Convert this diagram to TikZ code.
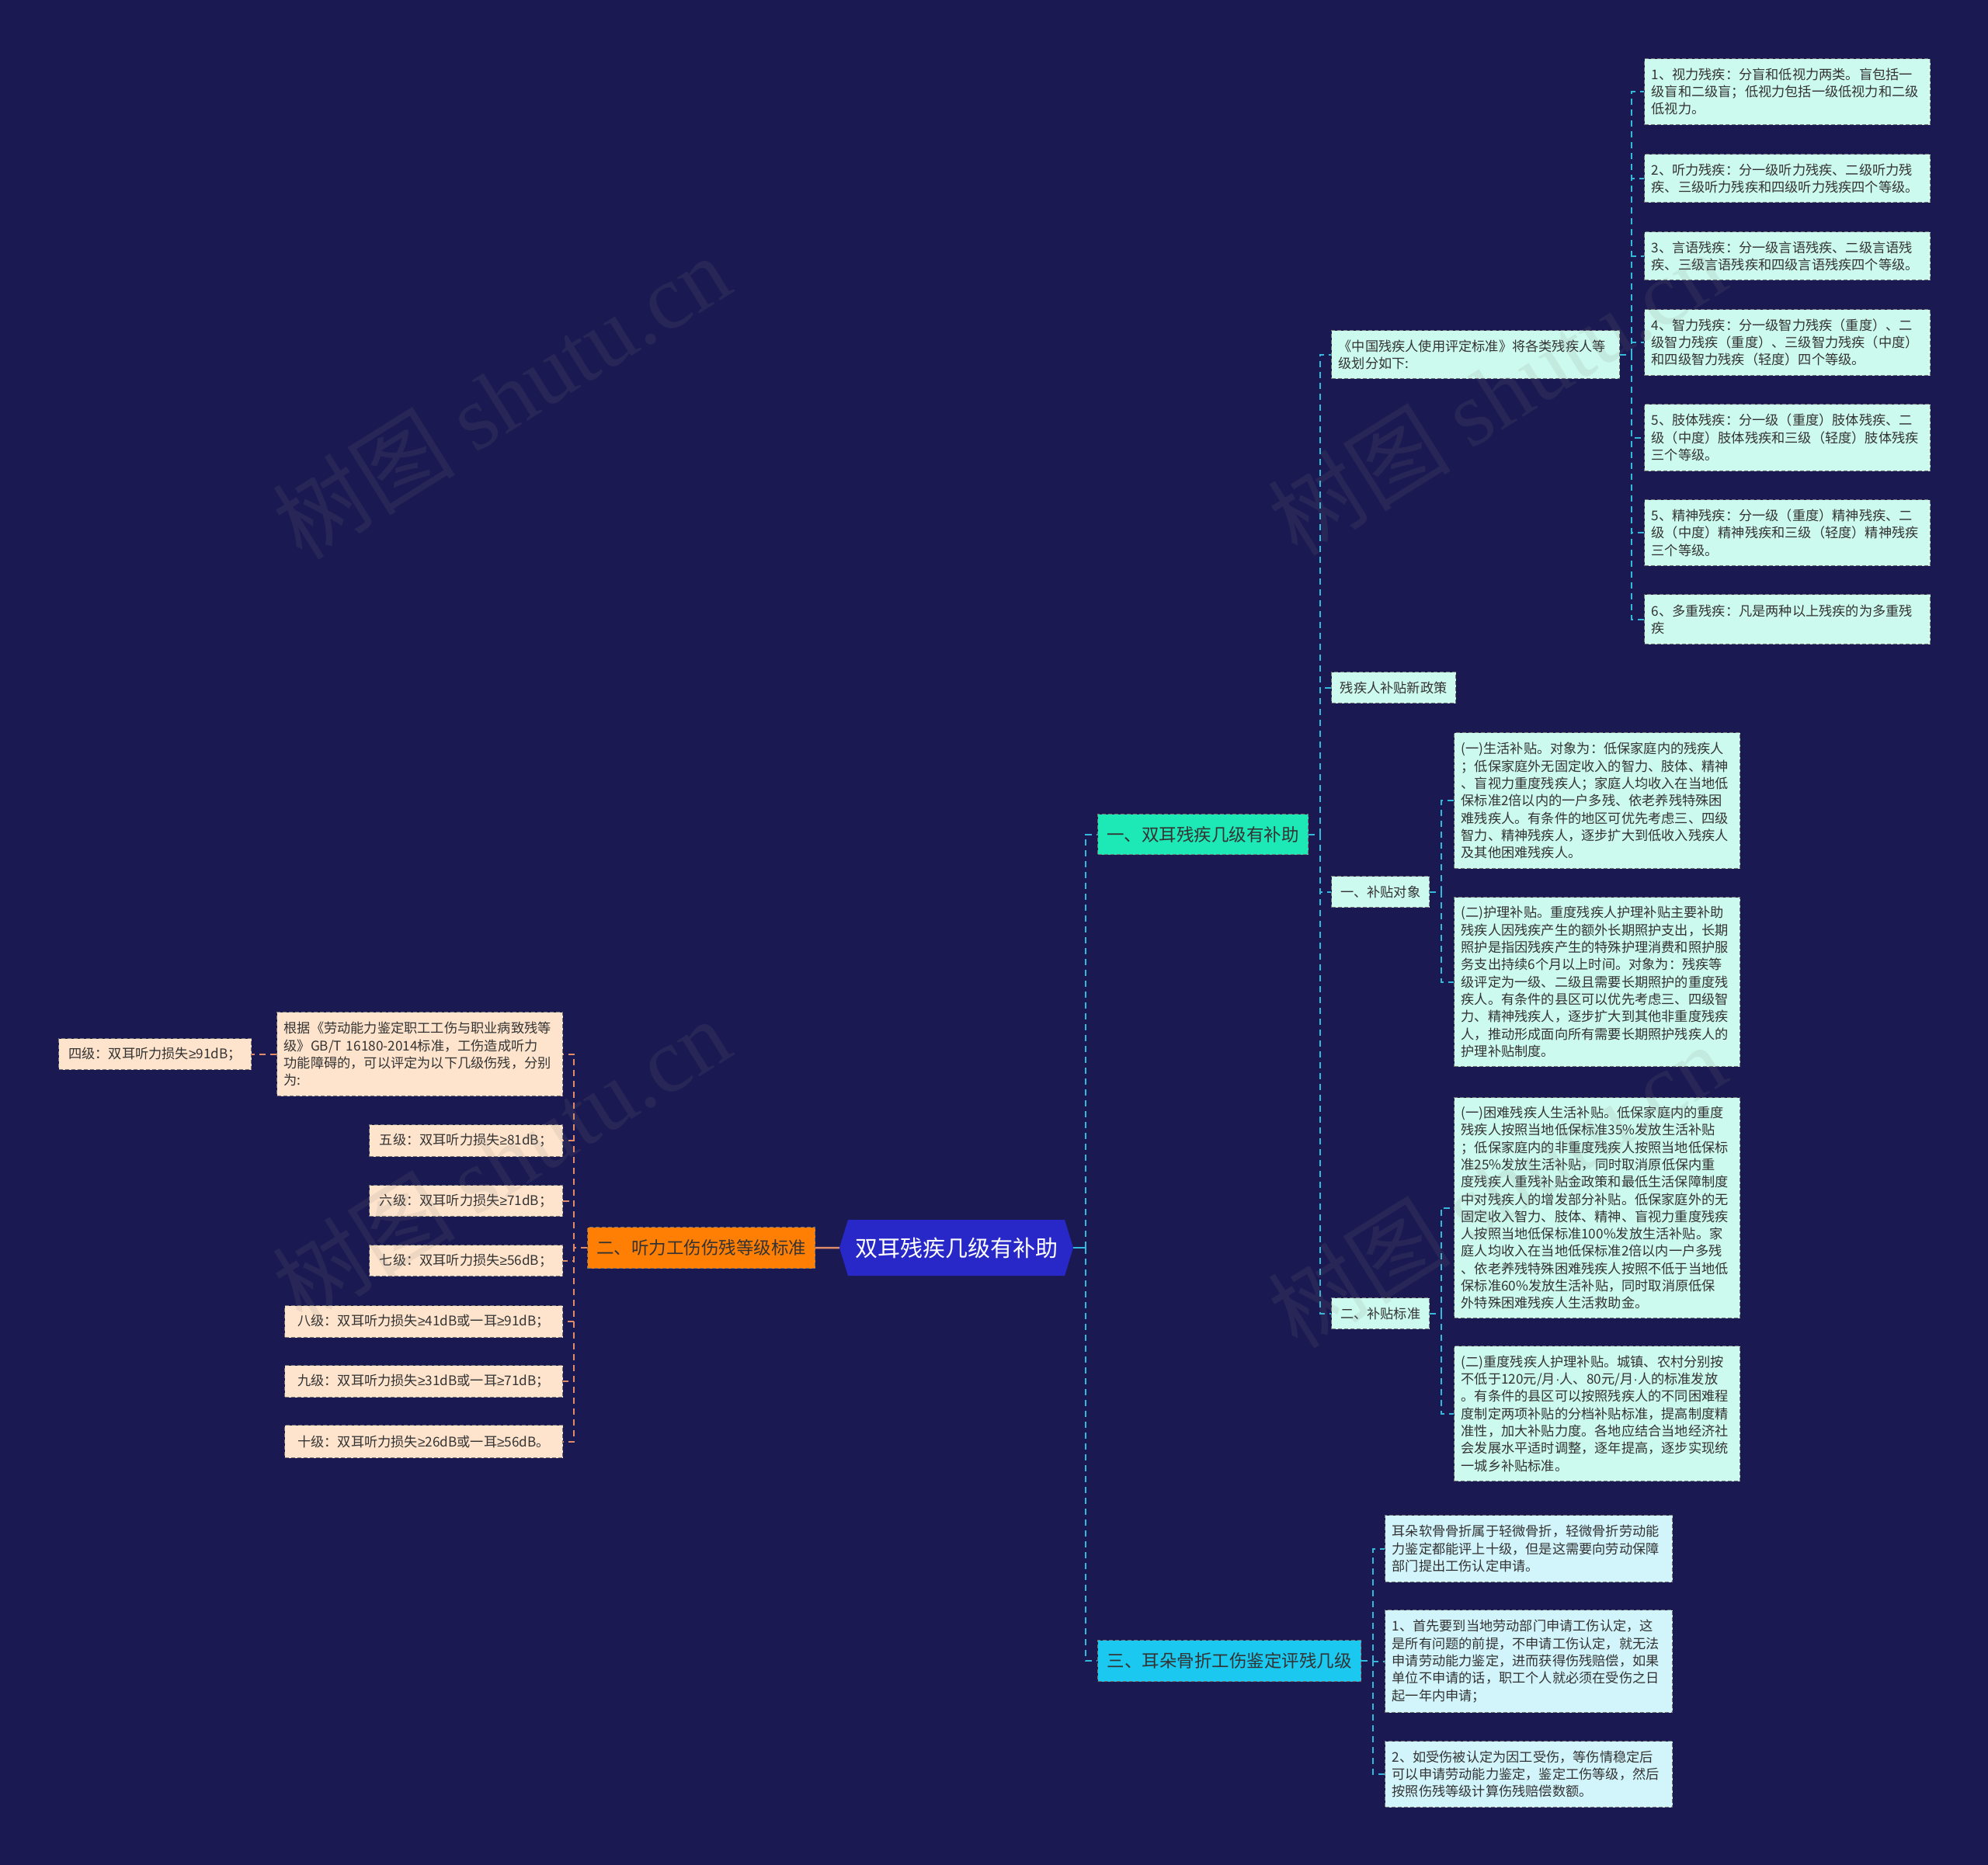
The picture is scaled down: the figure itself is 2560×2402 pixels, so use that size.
\documentclass[tikz,border=0pt]{standalone}
\usepackage{fontspec}
\setmainfont{Noto Sans CJK SC}
\newfontfamily\wmserif{Liberation Serif}
\newfontfamily\symfont{Liberation Sans}
\newcommand\gesym{{\symfont ≥}}
\definecolor{bg}{RGB}{27,25,82}
\definecolor{rootfill}{RGB}{40,40,200}
\definecolor{bgreen}{RGB}{29,233,182}
\definecolor{borange}{RGB}{255,127,5}
\definecolor{bcyan}{RGB}{26,200,240}
\definecolor{lgreen}{RGB}{205,250,238}
\definecolor{lcyan}{RGB}{210,245,252}
\definecolor{lorange}{RGB}{254,228,204}
\definecolor{cyline}{RGB}{50,185,220}
\definecolor{orline}{RGB}{225,140,105}
\definecolor{txt}{RGB}{51,51,51}
\tikzset{
  box/.style={anchor=north west, draw=black!55, dash pattern=on 5pt off 3pt, line width=1.2pt,
    inner xsep=9pt, inner ysep=2pt, align=left, text=txt, font=\fontsize{17.2}{22.3}\selectfont},
  lg/.style={box, fill=lgreen},
  lc/.style={box, fill=lcyan},
  lo/.style={box, fill=lorange},
  brbox/.style={anchor=north west, draw=black!55, dash pattern=on 5pt off 3pt, line width=1.2pt,
    inner sep=2pt, align=center, text=txt, font=\fontsize{22.5}{27}\selectfont},
  cy/.style={draw=cyline, line width=2pt, dash pattern=on 8pt off 6pt},
  cysolid/.style={draw=cyline, line width=2.5pt},
  orl/.style={draw=orline, line width=2pt, dash pattern=on 8pt off 6pt},
  orsolid/.style={draw=orline, line width=2.5pt},
  wm/.style={rotate=32, text=gray, opacity=0.13, font=\fontsize{118}{128}\selectfont}
}
\begin{document}
\begin{tikzpicture}[x=1pt,y=-1pt]
\useasboundingbox (0,0) rectangle (2560,2402);
\fill[bg] (0,0) rectangle (2560,2402);

% root hexagon
\fill[rootfill] (1092,1571) -- (1371,1571) -- (1382,1607) -- (1371,1643) -- (1092,1643) -- (1081,1607) -- cycle;
\node[minimum width=301, minimum height=72, inner sep=0pt, text=white, font=\fontsize{29}{34}\selectfont] (root) at (1231.5,1607) {双耳残疾几级有补助};

% branches
\node[brbox, fill=bgreen, minimum width=271, minimum height=52] (b1) at (1413,1048) {一、双耳残疾几级有补助};
\node[brbox, fill=borange, minimum width=293, minimum height=53] (b2) at (756,1580) {二、听力工伤伤残等级标准};
\node[brbox, fill=bcyan, minimum width=339, minimum height=53] (b3) at (1413,2112) {三、耳朵骨折工伤鉴定评残几级};

% branch 1 level 2
\node[lg, minimum width=371, minimum height=62, text width=353] (h1) at (1714,425) {《中国残疾人使用评定标准》将各类残疾人等\\级划分如下:};
\node[lg, minimum width=160, minimum height=40] (h2) at (1714,865) {残疾人补贴新政策};
\node[lg, minimum width=126, minimum height=40] (h3) at (1714,1128) {一、补贴对象};
\node[lg, minimum width=126, minimum height=40] (h4) at (1714,1671) {二、补贴标准};

% level 3 under h1
\node[lg, minimum width=368, minimum height=85, text width=350] (a1) at (2117,75) {1、视力残疾：分盲和低视力两类。盲包括一\\级盲和二级盲；低视力包括一级低视力和二级\\低视力。};
\node[lg, minimum width=368, minimum height=62, text width=350] (a2) at (2117,198) {2、听力残疾：分一级听力残疾、二级听力残\\疾、三级听力残疾和四级听力残疾四个等级。};
\node[lg, minimum width=368, minimum height=62, text width=350] (a3) at (2117,298) {3、言语残疾：分一级言语残疾、二级言语残\\疾、三级言语残疾和四级言语残疾四个等级。};
\node[lg, minimum width=368, minimum height=85, text width=350] (a4) at (2117,398) {4、智力残疾：分一级智力残疾（重度）、二\\级智力残疾（重度）、三级智力残疾（中度）\\和四级智力残疾（轻度）四个等级。};
\node[lg, minimum width=368, minimum height=86, text width=350] (a5) at (2117,520) {5、肢体残疾：分一级（重度）肢体残疾、二\\级（中度）肢体残疾和三级（轻度）肢体残疾\\三个等级。};
\node[lg, minimum width=368, minimum height=85, text width=350] (a6) at (2117,643) {5、精神残疾：分一级（重度）精神残疾、二\\级（中度）精神残疾和三级（轻度）精神残疾\\三个等级。};
\node[lg, minimum width=368, minimum height=64, text width=350] (a7) at (2117,765) {6、多重残疾：凡是两种以上残疾的为多重残\\疾};

% level 3 under h3, h4
\node[lg, minimum width=368, minimum height=175, text width=350] (c1) at (1872,943) {(一)生活补贴。对象为：低保家庭内的残疾人\\；低保家庭外无固定收入的智力、肢体、精神\\、盲视力重度残疾人；家庭人均收入在当地低\\保标准2倍以内的一户多残、依老养残特殊困\\难残疾人。有条件的地区可优先考虑三、四级\\智力、精神残疾人，逐步扩大到低收入残疾人\\及其他困难残疾人。};
\node[lg, minimum width=368, minimum height=218, text width=350] (c2) at (1872,1155) {(二)护理补贴。重度残疾人护理补贴主要补助\\残疾人因残疾产生的额外长期照护支出，长期\\照护是指因残疾产生的特殊护理消费和照护服\\务支出持续6个月以上时间。对象为：残疾等\\级评定为一级、二级且需要长期照护的重度残\\疾人。有条件的县区可以优先考虑三、四级智\\力、精神残疾人，逐步扩大到其他非重度残疾\\人，推动形成面向所有需要长期照护残疾人的\\护理补贴制度。};
\node[lg, minimum width=368, minimum height=284, text width=350] (d1) at (1872,1413) {(一)困难残疾人生活补贴。低保家庭内的重度\\残疾人按照当地低保标准35\%发放生活补贴\\；低保家庭内的非重度残疾人按照当地低保标\\准25\%发放生活补贴，同时取消原低保内重\\度残疾人重残补贴金政策和最低生活保障制度\\中对残疾人的增发部分补贴。低保家庭外的无\\固定收入智力、肢体、精神、盲视力重度残疾\\人按照当地低保标准100\%发放生活补贴。家\\庭人均收入在当地低保标准2倍以内一户多残\\、依老养残特殊困难残疾人按照不低于当地低\\保标准60\%发放生活补贴，同时取消原低保\\外特殊困难残疾人生活救助金。};
\node[lg, minimum width=368, minimum height=174, text width=350] (d2) at (1872,1733) {(二)重度残疾人护理补贴。城镇、农村分别按\\不低于120元/月{\symfont ·}人、80元/月{\symfont ·}人的标准发放\\。有条件的县区可以按照残疾人的不同困难程\\度制定两项补贴的分档补贴标准，提高制度精\\准性，加大补贴力度。各地应结合当地经济社\\会发展水平适时调整，逐年提高，逐步实现统\\一城乡补贴标准。};

% branch 3 leaves
\node[lc, minimum width=370, minimum height=86, text width=352] (e1) at (1783,1951) {耳朵软骨骨折属于轻微骨折，轻微骨折劳动能\\力鉴定都能评上十级，但是这需要向劳动保障\\部门提出工伤认定申请。};
\node[lc, minimum width=370, minimum height=132, text width=352] (e2) at (1783,2073) {1、首先要到当地劳动部门申请工伤认定，这\\是所有问题的前提，不申请工伤认定，就无法\\申请劳动能力鉴定，进而获得伤残赔偿，如果\\单位不申请的话，职工个人就必须在受伤之日\\起一年内申请；};
\node[lc, minimum width=370, minimum height=85, text width=352] (e3) at (1783,2242) {2、如受伤被认定为因工受伤，等伤情稳定后\\可以申请劳动能力鉴定，鉴定工伤等级，然后\\按照伤残等级计算伤残赔偿数额。};

% branch 2 leaves
\node[lo, minimum width=368, minimum height=108, text width=350] (f0) at (356,1303) {根据《劳动能力鉴定职工工伤与职业病致残等\\级》GB/T 16180-2014标准，工伤造成听力\\功能障碍的，可以评定为以下几级伤残，分别\\为:};
\node[lo, minimum width=248, minimum height=40] (f00) at (75,1337) {四级：双耳听力损失\gesym 91dB；};
\node[lo, minimum width=249, minimum height=41] (f1) at (475,1448) {五级：双耳听力损失\gesym 81dB；};
\node[lo, minimum width=249, minimum height=40] (f2) at (475,1526) {六级：双耳听力损失\gesym 71dB；};
\node[lo, minimum width=249, minimum height=40] (f3) at (475,1603) {七级：双耳听力损失\gesym 56dB；};
\node[lo, minimum width=358, minimum height=41] (f4) at (366,1681) {八级：双耳听力损失\gesym 41dB或一耳\gesym 91dB；};
\node[lo, minimum width=358, minimum height=41] (f5) at (366,1758) {九级：双耳听力损失\gesym 31dB或一耳\gesym 71dB；};
\node[lo, minimum width=358, minimum height=42] (f6) at (366,1835) {十级：双耳听力损失\gesym 26dB或一耳\gesym 56dB。};

% trunk coordinates
\coordinate (tR) at (1398,0);
\coordinate (t1) at (1700,0);
\coordinate (tA) at (2101,0);
\coordinate (tC) at (1856,0);
\coordinate (t3) at (1768,0);
\coordinate (t2) at (739,0);

% connectors
\draw[cysolid] (root.east) -- (tR|-root.east);
\draw[cy] (tR|-root.east) |- (b1.west);
\draw[cy] (tR|-root.east) |- (b3.west);
\foreach \n in {h1,h2,h3,h4} \draw[cy] (b1.east) -- (t1|-b1.east) |- (\n.west);
\foreach \n in {a1,a2,a3,a4,a5,a6,a7} \draw[cy] (h1.east) -- (tA|-h1.east) |- (\n.west);
\foreach \n in {c1,c2} \draw[cy] (h3.east) -- (tC|-h3.east) |- (\n.west);
\foreach \n in {d1,d2} \draw[cy] (h4.east) -- (tC|-h4.east) |- (\n.west);
\foreach \n in {e1,e2,e3} \draw[cy] (b3.east) -- (t3|-b3.east) |- (\n.west);
\draw[orsolid] (root.west) -- (b2.east);
\foreach \n in {f0,f1,f2,f3,f4,f5,f6} \draw[orl] (b2.west) -- (t2|-b2.west) |- (\n.east);
\draw[orl] (f0.west) -- (f00.east);

% watermarks
\node[wm] (wm1) at (645,511) {树图 {\wmserif shutu.cn}};
\node[wm] (wm2) at (1927,506) {树图 {\wmserif shutu.cn}};
\node[wm] (wm3) at (645,1494) {树图 {\wmserif shutu.cn}};
\node[wm] (wm4) at (1927,1527) {树图 {\wmserif shutu.cn}};
\end{tikzpicture}
\end{document}
